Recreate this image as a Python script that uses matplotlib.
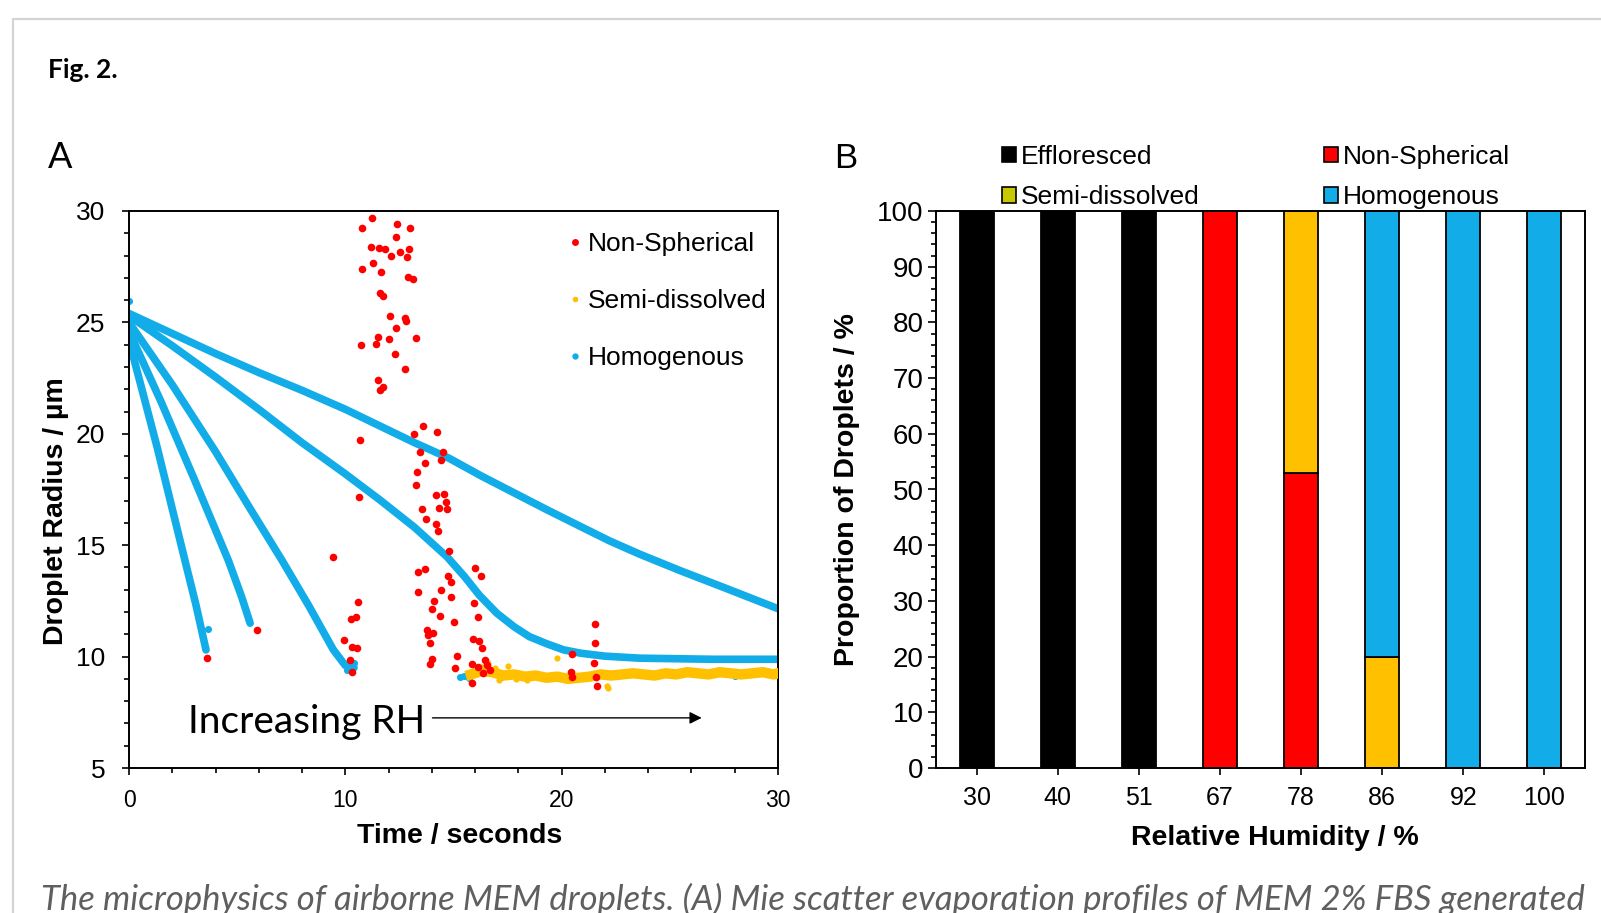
import matplotlib
matplotlib.use("Agg")
import matplotlib.pyplot as plt
from matplotlib.lines import Line2D
from matplotlib.patches import Patch
from matplotlib.ticker import MultipleLocator
import numpy as np

plt.rcParams['font.family'] = ['Liberation Sans', 'DejaVu Sans']

BLUE = '#12ade9'
RED = '#ff0000'
YELLOW = '#ffc000'

# ---- Panel A: evaporation profiles (time / s, radius / um) ----
h1_t = [0, 1.3, 2.59, 3.1, 3.56]
h1_r = [24.2, 19.4, 14.3, 12.3, 10.3]
h2_t = [0, 1.5, 3.0, 4.6, 5.2, 5.6]
h2_r = [24.6, 21.4, 18.0, 14.3, 12.7, 11.5]
h3_t = [0, 2.0, 4.0, 5.5, 7.06, 8.3, 9.45, 10.0, 10.4]
h3_r = [25.0, 22.2, 19.2, 16.8, 14.34, 12.3, 10.3, 9.6, 9.5]
h4_t = [0, 2, 4, 6, 8, 10, 11.6, 13.2, 14.7, 15.5, 16.2, 17.0, 17.8, 18.5, 19.3, 20.1,
        20.9, 22.0, 23.6, 27.0, 30.0]
h4_r = [25.3, 23.95, 22.55, 21.1, 19.6, 18.2, 17.03, 15.8, 14.48, 13.6, 12.75, 11.95,
        11.34, 10.9, 10.58, 10.3, 10.15, 10.02, 9.93, 9.88, 9.88]
h5_t = [0, 2, 4, 6, 8, 10, 11.6, 13.2, 14.8, 16.3, 17.8, 19.3, 20.85, 22.2, 23.6, 25.5,
        27.5, 30.0]
h5_r = [25.4, 24.5, 23.6, 22.75, 21.95, 21.1, 20.35, 19.6, 18.9, 18.1, 17.35, 16.6,
        15.85, 15.2, 14.6, 13.85, 13.1, 12.15]
homog_pts_t = [3.65, 15.3, 15.5, 15.7, 17.2, 18.9, 28.0, 0.0, 10.4, 10.1]
homog_pts_r = [11.25, 9.1, 9.12, 9.05, 9.1, 9.15, 9.15, 25.95, 9.7, 9.4]

semi_band_t = [15.8, 16.3, 16.8, 17.3, 17.8, 18.3, 18.8, 19.3, 19.8, 20.3, 20.8, 21.3, 21.8,
               22.3, 22.8, 23.3, 23.8, 24.3, 24.8, 25.3, 25.8, 26.3, 26.8, 27.3, 27.8, 28.3,
               28.8, 29.3, 29.8, 30.0]
semi_band_r = [9.2, 9.35, 9.3, 9.15, 9.2, 9.1, 9.15, 9.05, 9.1, 9.0, 9.05, 9.1, 9.2,
               9.15, 9.2, 9.25, 9.2, 9.15, 9.25, 9.2, 9.3, 9.25, 9.2, 9.3, 9.25, 9.2,
               9.25, 9.3, 9.2, 9.25]
semi_pts_t = [16.6, 16.9, 17.5, 19.77, 22.08, 22.16, 17.9, 16.3, 17.1, 18.4]
semi_pts_r = [9.7, 9.5, 9.6, 9.95, 8.68, 8.6, 9.0, 9.55, 8.95, 8.95]

ns_t = [11.22, 10.76, 12.38, 12.99, 12.34, 11.17, 11.56, 11.84, 12.11, 12.53, 12.84, 12.94,
        11.27, 10.76, 11.65, 12.91, 13.15, 11.60, 11.73, 12.07, 12.76, 12.81, 12.33, 11.50,
        12.02, 13.25, 10.71, 11.40, 12.28, 12.76, 11.53, 11.73, 11.60, 10.68, 13.19, 13.61,
        14.26, 13.45, 14.53, 14.42, 13.30, 13.68, 13.27, 10.63, 14.18, 14.58, 14.66, 14.69,
        14.35, 13.56, 13.72, 14.19, 14.30, 14.81, 9.45, 13.35, 13.68, 16.00, 16.27, 14.76,
        14.89, 13.38, 14.42, 14.89, 14.12, 15.95, 14.02, 14.38, 16.12, 15.03, 13.76, 14.07,
        13.84, 13.92, 15.92, 16.20, 16.33, 14.00, 13.92, 15.15, 15.07, 15.84, 16.15, 16.46,
        16.54, 16.69, 16.38, 15.84, 20.47, 21.54, 21.54, 21.51, 20.43, 20.47, 21.62, 21.57,
        3.59, 5.90, 10.57, 10.49, 10.25, 9.95, 10.29, 10.53, 10.22, 10.32]
ns_r = [29.67, 29.22, 29.40, 29.25, 28.85, 28.37, 28.32, 28.28, 27.99, 28.17, 27.92, 28.29,
        27.65, 27.40, 27.28, 27.02, 26.93, 26.31, 26.18, 25.29, 25.21, 25.08, 24.76, 24.36,
        24.27, 24.31, 23.97, 24.02, 23.58, 22.91, 22.41, 22.11, 21.97, 19.72, 19.98, 20.36,
        20.07, 19.20, 19.17, 18.82, 18.30, 18.67, 17.70, 17.18, 17.25, 17.30, 16.95, 16.61,
        16.65, 16.61, 16.18, 15.94, 15.65, 14.74, 14.48, 13.78, 13.93, 13.99, 13.62, 13.63,
        13.36, 12.91, 12.99, 12.69, 12.51, 12.42, 12.12, 11.82, 11.79, 11.57, 11.19, 11.07,
        10.97, 10.60, 10.78, 10.71, 10.37, 9.88, 9.65, 10.04, 9.47, 9.65, 9.54, 9.85,
        9.62, 9.40, 9.25, 8.83, 10.12, 11.46, 10.60, 9.73, 9.32, 9.10, 8.68, 9.10,
        9.92, 11.19, 12.44, 11.76, 11.67, 10.75, 10.42, 10.37, 9.85, 9.32]

# ---- Panel B: droplet morphology vs RH ----
rh_labels = ['30', '40', '51', '67', '78', '86', '92', '100']
effloresced = [100, 100, 100, 0, 0, 0, 0, 0]
non_spherical = [0, 0, 0, 100, 53, 0, 0, 0]
semi_dissolved = [0, 0, 0, 0, 47, 20, 0, 0]
homogenous = [0, 0, 0, 0, 0, 80, 100, 100]

W, H = 1601, 913
fig = plt.figure(figsize=(W / 100, H / 100), dpi=100)
fig.patch.set_facecolor('white')

# card border
fig.add_artist(Line2D([13 / W, 13 / W, 1], [0, 1 - 19 / H, 1 - 19 / H],
                      color='#d4d4d4', lw=1.6))

fig.text(48 / W, 1 - 70 / H, 'Fig. 2.', fontsize=19, fontweight='bold',
         family=['Lato', 'DejaVu Sans'], va='center', ha='left')

ax1 = fig.add_axes([129 / W, 1 - 768 / H, 649 / W, 557 / H])
ax2 = fig.add_axes([936 / W, 1 - 768 / H, 649 / W, 557 / H])

for ax in (ax1, ax2):
    for s in ax.spines.values():
        s.set_linewidth(1.4)
    ax.tick_params(which='both', direction='out', width=1.2)
    ax.tick_params(which='major', length=5)
    ax.tick_params(which='minor', length=3.5)

# Panel A
for tt, rr in [(h1_t, h1_r), (h2_t, h2_r), (h3_t, h3_r), (h4_t, h4_r), (h5_t, h5_r)]:
    ax1.plot(tt, rr, color=BLUE, lw=5.5, solid_capstyle='round',
             solid_joinstyle='round', zorder=2)
ax1.scatter(homog_pts_t, homog_pts_r, s=26, color=BLUE, lw=0, zorder=2)
ax1.plot(semi_band_t, semi_band_r, color=YELLOW, lw=7.5, solid_joinstyle='round', zorder=3)
ax1.scatter(semi_pts_t, semi_pts_r, s=20, color=YELLOW, lw=0, zorder=3)
ax1.scatter(ns_t, ns_r, s=30, color=RED, lw=0, zorder=4)

ax1.set_xlim(0, 30)
ax1.set_ylim(5, 30)
ax1.xaxis.set_major_locator(MultipleLocator(10))
ax1.xaxis.set_minor_locator(MultipleLocator(2))
ax1.yaxis.set_major_locator(MultipleLocator(5))
ax1.yaxis.set_minor_locator(MultipleLocator(1))
ax1.tick_params(axis='y', which='major', pad=12, labelsize=19)
ax1.tick_params(axis='x', which='major', pad=10, labelsize=16.5)
ax1.set_xlabel('Time / seconds', fontsize=20.5, fontweight='bold', labelpad=8)
ax1.set_ylabel('Droplet Radius / µm', fontsize=20.5, fontweight='bold', labelpad=5)
ax1.xaxis.label.set_x(0.509)
ax1.yaxis.label.set_y(0.462)

ax1.annotate('', xy=(26.6, 7.25), xytext=(13.9, 7.25),
             arrowprops=dict(arrowstyle='-|>', color='black', lw=1.0,
                             mutation_scale=18))
ax1.text(13.7, 7.05, 'Increasing RH', fontsize=28, ha='right', va='center',
         family=['Lato', 'DejaVu Sans'])

handles_a = [
    Line2D([], [], ls='none', marker='o', ms=5, color=RED, mec='none'),
    Line2D([], [], ls='none', marker='o', ms=4, color=YELLOW, mec='none'),
    Line2D([], [], ls='none', marker='o', ms=4.6, color=BLUE, mec='none'),
]
ax1.legend(handles_a, ['Non-Spherical', 'Semi-dissolved', 'Homogenous'],
           loc='upper left', bbox_to_anchor=(0.675, 0.962), frameon=False,
           fontsize=19, handlelength=0.6, handletextpad=0.17, labelspacing=1.25,
           borderpad=0, borderaxespad=0)

fig.text(48 / W, 1 - 158 / H, 'A', fontsize=26, va='center', ha='left',
         family=['Lato', 'DejaVu Sans'])
fig.text(834 / W, 1 - 158 / H, 'B', fontsize=25, va='center', ha='left')

# Panel B
x = np.arange(len(rh_labels))
bw = 0.42
bottom = np.zeros(len(x))
for vals, col in [(effloresced, 'black'), (non_spherical, RED),
                  (semi_dissolved, YELLOW), (homogenous, BLUE)]:
    v = np.array(vals, dtype=float)
    mask = v > 0
    ax2.bar(x[mask], v[mask], bw, bottom=bottom[mask], color=col,
            edgecolor='black', linewidth=1.3, zorder=2)
    bottom += v

ax2.set_xlim(-0.5, 7.5)
ax2.set_ylim(0, 100)
ax2.set_xticks(x)
ax2.set_xticklabels(rh_labels)
ax2.yaxis.set_major_locator(MultipleLocator(10))
ax2.yaxis.set_minor_locator(MultipleLocator(2))
ax2.tick_params(axis='y', which='major', length=6, pad=3, labelsize=20)
ax2.tick_params(axis='x', which='major', length=5, pad=8, labelsize=18)
ax2.set_xlabel('Relative Humidity / %', fontsize=20.5, fontweight='bold', labelpad=11)
ax2.set_ylabel('Proportion of Droplets / %', fontsize=20.5, fontweight='bold', labelpad=12)
ax2.xaxis.label.set_x(0.522)

handles_b = [
    Patch(facecolor='black', edgecolor='black', lw=1.2),
    Patch(facecolor='#c8c800', edgecolor='black', lw=1.2),
    Patch(facecolor=RED, edgecolor='black', lw=1.2),
    Patch(facecolor=BLUE, edgecolor='black', lw=1.2),
]
ax2.legend(handles_b, ['Effloresced', 'Semi-dissolved', 'Non-Spherical', 'Homogenous'],
           ncol=2, loc='upper left', bbox_to_anchor=(1002 / W, 1 - 145 / H),
           bbox_transform=fig.transFigure, frameon=False, fontsize=19,
           handlelength=0.52, handleheight=0.52, handletextpad=0.2,
           labelspacing=0.62, columnspacing=4.7, borderpad=0, borderaxespad=0)

# caption, fitted to its width in the reference
cap = fig.text(41 / W, 3 / H,
               'The microphysics of airborne MEM droplets. (A) Mie scatter evaporation '
               'profiles of MEM 2% FBS generated',
               fontsize=23, style='italic', color='#5f5f5f', va='baseline', ha='left',
               family=['Lato', 'DejaVu Sans'])
fig.canvas.draw()
wpx = cap.get_window_extent().width
cap.set_fontsize(23 * 1544 / wpx)

fig.savefig('out.png', dpi=100)
